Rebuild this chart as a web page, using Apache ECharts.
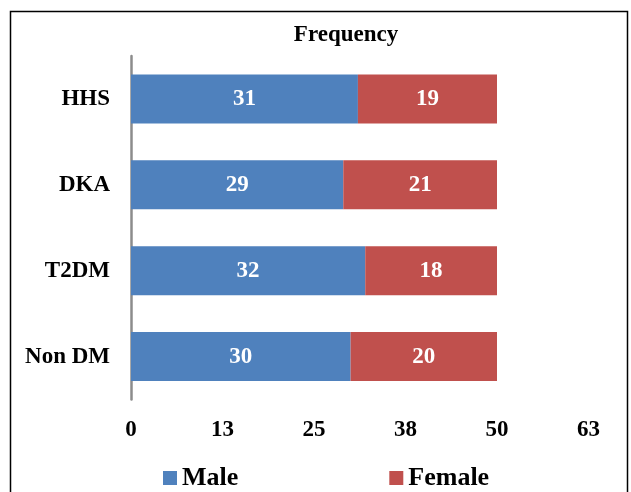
<!DOCTYPE html>
<html>
<head>
<meta charset="utf-8">
<script src="https://cdn.jsdelivr.net/npm/echarts@6/dist/echarts.min.js"></script>
<style>
  html, body { margin: 0; padding: 0; background: #fff; }
  #chart { width: 631px; height: 492px; }
</style>
</head>
<body>
<div id="chart"></div>
<script>
// Patient groups, top to bottom
const categories = ['HHS', 'DKA', 'T2DM', 'Non DM'];
// Counts per group
const maleValues = [31, 29, 32, 30];
const femaleValues = [19, 21, 18, 20];
// Value axis scale
const axisMin = 0;
const axisMax = 62.5;
const axisStep = 12.5;

const serif = '"Liberation Serif", "Times New Roman", serif';

const chart = echarts.init(document.getElementById('chart'), null, { renderer: 'canvas' });

const segmentLabel = {
  show: true,
  position: 'inside',
  color: '#fff',
  fontFamily: serif,
  fontWeight: 'bold',
  fontSize: 23
};

chart.setOption({
  backgroundColor: '#fff',
  animation: false,
  title: {
    text: 'Frequency',
    left: 341,
    textAlign: 'center',
    top: 19,
    textStyle: { fontFamily: serif, fontWeight: 'bold', fontSize: 23, color: '#000' }
  },
  legend: {
    left: 163,
    top: 465,
    padding: 0,
    itemWidth: 14,
    itemHeight: 14,
    itemGap: 151,
    icon: 'rect',
    textStyle: { fontFamily: serif, fontWeight: 'bold', fontSize: 26, color: '#000' },
    data: ['Male', 'Female']
  },
  grid: { left: 131, right: 42.5, top: 56, bottom: 92.5, containLabel: false },
  xAxis: {
    type: 'value',
    min: axisMin,
    max: axisMax,
    interval: axisStep,
    axisLine: { show: false },
    axisTick: { show: false },
    splitLine: { show: false },
    axisLabel: {
      margin: 19,
      color: '#000',
      fontFamily: serif,
      fontWeight: 'bold',
      fontSize: 23,
      formatter: v => String(Math.round(v))
    }
  },
  yAxis: {
    type: 'category',
    data: categories,
    inverse: true,
    axisLine: { show: true, lineStyle: { color: '#8c8c8c', width: 2.5 } },
    axisTick: { show: false },
    axisLabel: {
      margin: 21,
      color: '#000',
      fontFamily: serif,
      fontWeight: 'bold',
      fontSize: 23
    }
  },
  series: [
    {
      name: 'Male',
      type: 'bar',
      stack: 'total',
      barWidth: 49,
      data: maleValues,
      itemStyle: { color: '#4F81BD' },
      label: segmentLabel
    },
    {
      name: 'Female',
      type: 'bar',
      stack: 'total',
      barWidth: 49,
      data: femaleValues,
      itemStyle: { color: '#C0504D' },
      label: segmentLabel
    }
  ],
  graphic: [
    {
      type: 'rect',
      shape: { x: 10.5, y: 11.5, width: 617, height: 500 },
      style: { fill: 'none', stroke: '#000', lineWidth: 1.5 },
      silent: true,
      z: -1
    }
  ]
});
</script>
</body>
</html>
